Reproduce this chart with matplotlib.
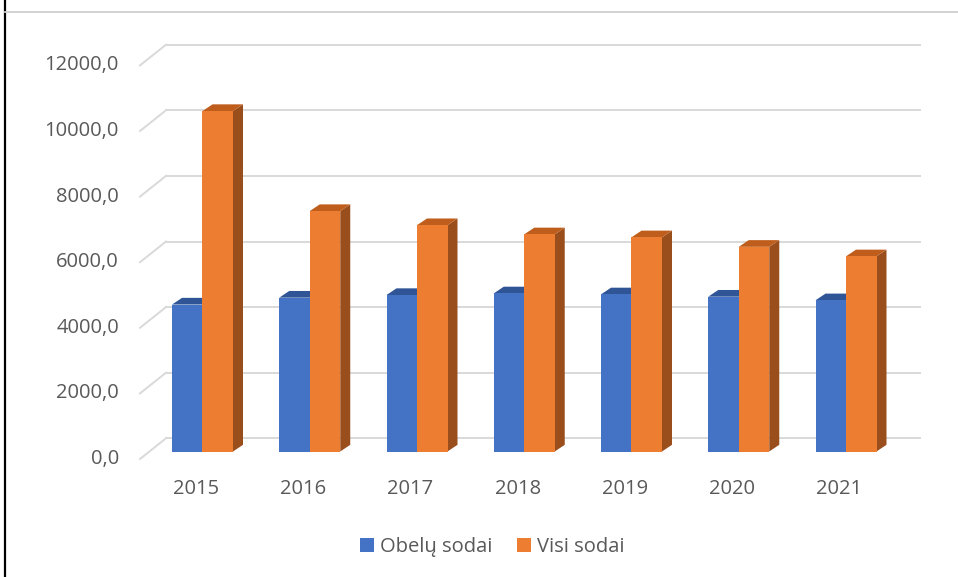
import matplotlib
matplotlib.use("Agg")
import matplotlib.pyplot as plt
from matplotlib.patches import Polygon, Patch
from matplotlib.lines import Line2D

# ---------------- data ----------------
years = ["2015", "2016", "2017", "2018", "2019", "2020", "2021"]
obelu_sodai = [4480, 4690, 4770, 4820, 4790, 4720, 4610]
visi_sodai = [10380, 7330, 6900, 6620, 6530, 6240, 5950]
series_names = ["Obelų sodai", "Visi sodai"]
y_ticks = [0, 2000, 4000, 6000, 8000, 10000, 12000]
y_tick_labels = ["0,0", "2000,0", "4000,0", "6000,0", "8000,0", "10000,0", "12000,0"]

# ---------------- style / layout ----------------
W, H = 958, 577
FONT = ["Open Sans", "DejaVu Sans"]
FS = 14.5
TXT = "#595959"
GRID = "#D9D9D9"
BLUE, BLUE_TOP = "#4472C4", "#2F5597"
ORANGE, ORANGE_TOP, ORANGE_SIDE = "#ED7D31", "#BF5E1C", "#9A4E1C"

fig = plt.figure(figsize=(W / 100, H / 100), dpi=100)
ax = fig.add_axes([0, 0, 1, 1])

# axis mapping (pixel geometry of the reference)
x0_px, step_px = 202.5, 107.25         # front centre of first group, spacing
y0_px, ppu = 451.5, 65.6 / 2000        # front floor (from top), pixels per unit
ax.set_xlim(-x0_px / step_px, (W - x0_px) / step_px)
ax.set_ylim(-(H - y0_px) / ppu, y0_px / ppu)
ax.axis("off")

def px_x(px):
    return (px - x0_px) / step_px

def px_dy(px):
    return px / ppu

bw = 30.5 / step_px        # bar width
DX = 10.0 / step_px        # depth offset, x
DY = px_dy(6.7)            # depth offset, y

# back-wall grid lines + side diagonals
wall_off = px_dy(y0_px - 438.3)
front_off = px_dy(y0_px - 459.0)
xl_front, xl_wall, xr_wall = px_x(140), px_x(166), px_x(920)
for v, lab in zip(y_ticks, y_tick_labels):
    ax.add_line(Line2D([xl_wall, xr_wall], [v + wall_off, v + wall_off],
                       color=GRID, lw=1.4, zorder=1))
    ax.add_line(Line2D([xl_front, xl_wall], [v + front_off, v + wall_off],
                       color=GRID, lw=1.4, zorder=1))
    ax.text(px_x(119), v + front_off, lab, ha="right", va="center",
            fontsize=FS, color=TXT, family=FONT)

# bars
idx = list(range(len(years)))
for i, (b, o) in enumerate(zip(obelu_sodai, visi_sodai)):
    Lb, Rb = i - bw, i
    Lo, Ro = i, i + bw
    # blue top
    ax.add_patch(Polygon([(Lb, b), (Rb, b), (Rb + DX, b + DY), (Lb + DX, b + DY)],
                         closed=True, fc=BLUE_TOP, ec="none", zorder=3))
    # orange side
    ax.add_patch(Polygon([(Ro, 0), (Ro, o), (Ro + DX, o + DY), (Ro + DX, DY)],
                         closed=True, fc=ORANGE_SIDE, ec="none", zorder=3))
    # orange top
    ax.add_patch(Polygon([(Lo, o), (Ro, o), (Ro + DX, o + DY), (Lo + DX, o + DY)],
                         closed=True, fc=ORANGE_TOP, ec="none", zorder=3))

ax.bar([i - bw / 2 for i in idx], obelu_sodai, width=bw, color=BLUE, zorder=4,
       linewidth=0)
ax.bar([i + bw / 2 for i in idx], visi_sodai, width=bw, color=ORANGE, zorder=5,
       linewidth=0)

# category labels
lab_shift = px_x(196) - px_x(x0_px)
for i, yr in enumerate(years):
    ax.text(i + lab_shift, -px_dy(489 - y0_px), yr, ha="center", va="center",
            fontsize=FS, color=TXT, family=FONT)

# legend
handles = [Patch(fc=BLUE, ec="none"), Patch(fc=ORANGE, ec="none")]
leg = fig.legend(handles, series_names, loc="center", bbox_to_anchor=(492 / W, 1 - 547 / H),
                 ncol=2, frameon=False, handlelength=0.7, handleheight=0.7,
                 handletextpad=0.3, columnspacing=1.2,
                 prop={"family": FONT, "size": FS})
for t in leg.get_texts():
    t.set_color(TXT)

# page frame: left black border and top grey rule
fig.add_artist(Line2D([5 / W, 5 / W], [0, 1], color="black", lw=1.6,
                      transform=fig.transFigure))
fig.add_artist(Line2D([5 / W, 1], [1 - 11.5 / H, 1 - 11.5 / H], color="#CFCFCF", lw=1.3,
                      transform=fig.transFigure))

fig.savefig("out.png", dpi=100)
